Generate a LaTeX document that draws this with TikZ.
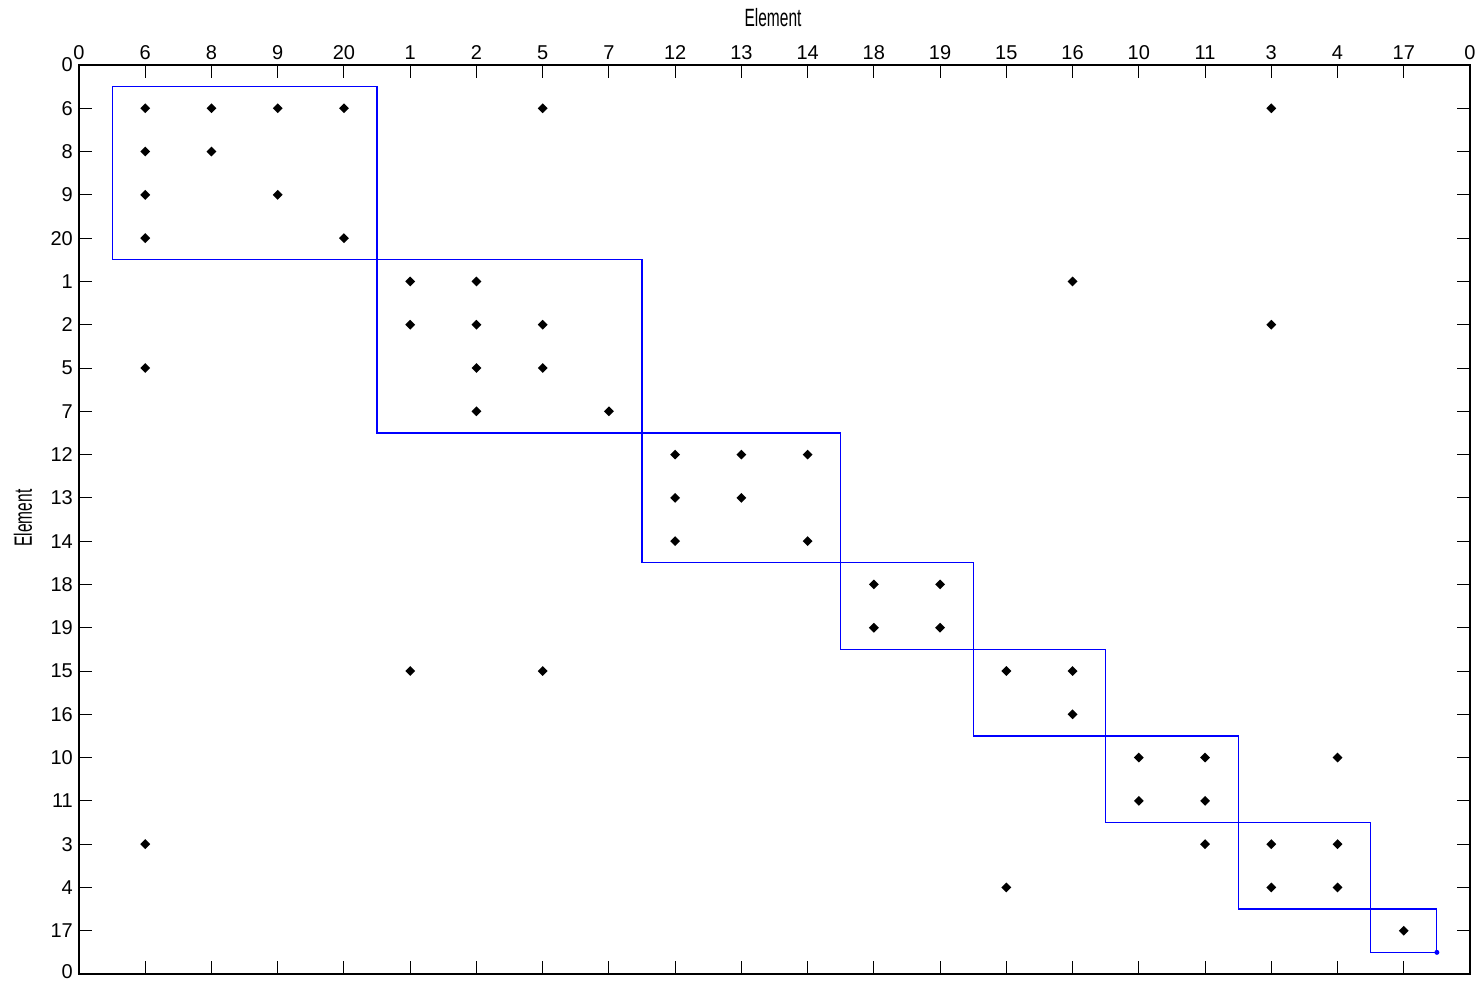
\documentclass[tikz,border=0pt]{standalone}
\usepackage{fontspec}
\setmainfont{Liberation Sans}
\usetikzlibrary{shapes.geometric}
\begin{document}
\begin{tikzpicture}[x=1pt,y=-1pt,
  axisframe/.style={line width=1.5pt},
  tickline/.style={line width=1pt},
  ticklab/.style={font=\fontsize{20}{22}\selectfont, inner sep=0pt},
  titlelab/.style={font=\fontsize{25}{27}\selectfont, inner sep=0pt},
  block/.style={draw=blue, line width=1.2pt},
  dsmdot/.style={shape=diamond, fill=black, inner sep=0pt, minimum size=10pt}]
\useasboundingbox (0,0) rectangle (1477,981);
% grid geometry: column i sits at 79+i*66.238, row j at 65+j*43.286
\def\cx#1{{79+(#1)*66.238}}
\def\ry#1{{65+(#1)*43.286}}

% frame
\draw[axisframe] (79,65) rectangle (1470,974);

% end labels
\node[ticklab, anchor=base] (top0) at (79,60) {0};
\node[ticklab, anchor=base] (top21) at (1470,60) {0};
\node[ticklab, anchor=east] (left0) at (73,65) {0};
\node[ticklab, anchor=east] (left21) at (73,972) {0};

% ticks and element labels
\foreach \lbl [count=\i] in {6,8,9,20,1,2,5,7,12,13,14,18,19,15,16,10,11,3,4,17} {
  \node[ticklab, anchor=base] (top\i) at (\cx{\i},60) {\lbl};
  \node[ticklab, anchor=east] (left\i) at (73,\ry{\i}) {\lbl};
  \draw[tickline] (\cx{\i},65) -- ++(0,13);
  \draw[tickline] (\cx{\i},974) -- ++(0,-13);
  \draw[tickline] (79,\ry{\i}) -- ++(13,0);
  \draw[tickline] (1470,\ry{\i}) -- ++(-13,0);
}

% axis titles
\node[titlelab] (xtitle) at (773,18) {\scalebox{0.62}[1]{Element}};
\node[titlelab, rotate=90] (ytitle) at (23,518) {\scalebox{0.62}[1]{Element}};

% clustered blocks
\foreach \a/\b in {0.5/4.5, 4.5/8.5, 8.5/11.5, 11.5/13.5, 13.5/15.5, 15.5/17.5, 17.5/19.5, 19.5/20.5}
  \draw[block] (\cx{\a},\ry{\a}) rectangle (\cx{\b},\ry{\b});
\fill[blue] (\cx{20.5},\ry{20.5}) circle (2.5);

% interactions (row/column)
\foreach \r/\c in {1/1,1/2,1/3,1/4,1/7,1/18,
                   2/1,2/2, 3/1,3/3, 4/1,4/4,
                   5/5,5/6,5/15, 6/5,6/6,6/7,6/18,
                   7/1,7/6,7/7, 8/6,8/8,
                   9/9,9/10,9/11, 10/9,10/10, 11/9,11/11,
                   12/12,12/13, 13/12,13/13,
                   14/5,14/7,14/14,14/15, 15/15,
                   16/16,16/17,16/19, 17/16,17/17,
                   18/1,18/17,18/18,18/19, 19/14,19/18,19/19, 20/20}
  \node[dsmdot] (d\r-\c) at (\cx{\c},\ry{\r}) {};
\end{tikzpicture}
\end{document}
